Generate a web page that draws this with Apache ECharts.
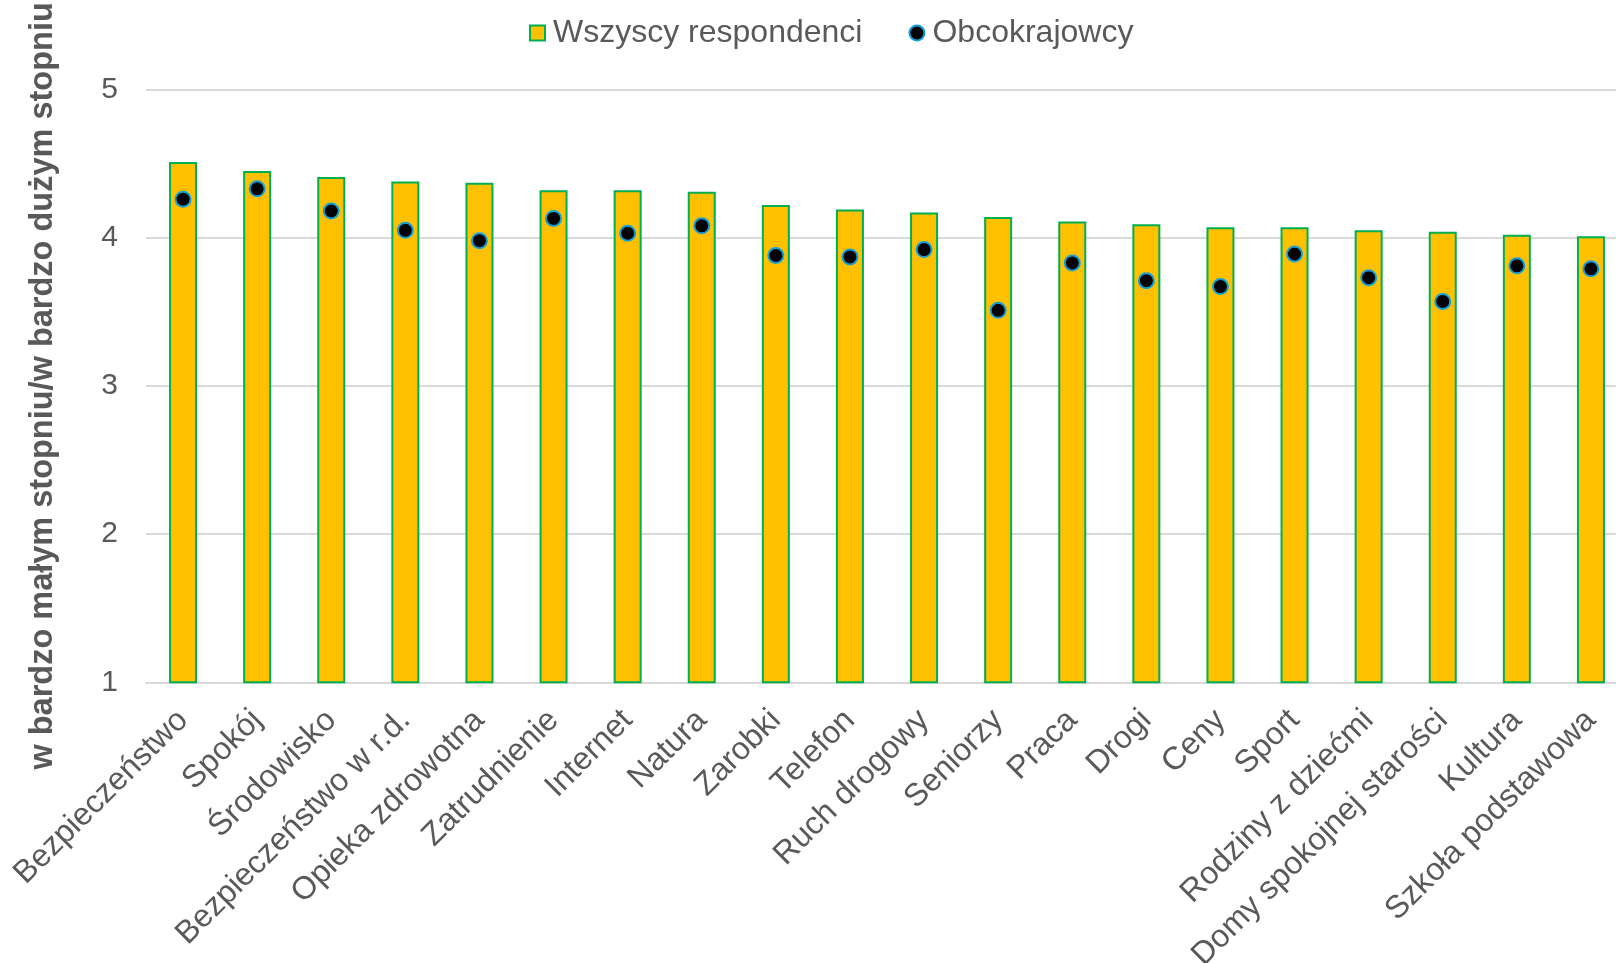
<!DOCTYPE html>
<html>
<head>
<meta charset="utf-8">
<script src="https://cdn.jsdelivr.net/npm/echarts@6/dist/echarts.min.js"></script>
<style>
html,body{margin:0;padding:0;background:#fff;overflow:hidden;}
#chart{width:1616px;height:963px;}
</style>
</head>
<body>
<div id="chart"></div>
<script>
const categories = ["Bezpieczeństwo","Spokój","Środowisko","Bezpieczeństwo w r.d.","Opieka zdrowotna","Zatrudnienie","Internet","Natura","Zarobki","Telefon","Ruch drogowy","Seniorzy","Praca","Drogi","Ceny","Sport","Rodziny z dziećmi","Domy spokojnej starości","Kultura","Szkoła podstawowa"];
const allRespondents = [4.51,4.45,4.41,4.38,4.37,4.32,4.32,4.31,4.22,4.19,4.17,4.14,4.11,4.09,4.07,4.07,4.05,4.04,4.02,4.01];
const foreigners = [4.26,4.33,4.18,4.05,3.98,4.13,4.03,4.08,3.88,3.87,3.92,3.51,3.83,3.71,3.67,3.89,3.73,3.57,3.81,3.79];
const seriesNames = ["Wszyscy respondenci","Obcokrajowcy"];
const yAxisTitle = "w bardzo małym stopniu/w bardzo dużym stopniu";

const FONT = "'Liberation Sans', Arial, sans-serif";
const chart = echarts.init(document.getElementById('chart'), null, {renderer:'canvas'});
chart.setOption({
  animation:false,
  backgroundColor:'#ffffff',
  textStyle:{fontFamily:FONT},
  legend:{
    left:529, top:17, padding:0, itemGap:46,
    itemWidth:15, itemHeight:15,
    textStyle:{fontSize:32, color:'#595959', fontFamily:FONT, padding:[0,0,0,3]},
    data:[
      {name:seriesNames[0], icon:'rect'},
      {name:seriesNames[1], icon:'circle'}
    ]
  },
  grid:{left:146, right:-12, top:89.5, bottom:280.7, containLabel:false, outerBoundsMode:'none'},
  xAxis:{
    type:'category', data:categories,
    axisLine:{show:true, lineStyle:{color:'#d9d9d9', width:2}},
    axisTick:{show:false},
    axisLabel:{rotate:45, interval:0, margin:33, fontSize:32, color:'#595959', fontFamily:FONT}
  },
  yAxis:{
    type:'value', min:1, max:5, interval:1,
    name:yAxisTitle, nameLocation:'middle', nameRotate:90, nameGap:86,
    nameTextStyle:{fontSize:32.5, fontWeight:'bold', color:'#595959', fontFamily:FONT},
    axisLine:{show:false}, axisTick:{show:false},
    axisLabel:{margin:28, fontSize:30, color:'#595959', fontFamily:FONT},
    splitLine:{lineStyle:{color:'#d9d9d9', width:2}}
  },
  series:[
    {
      name:seriesNames[0], type:'bar', data:allRespondents, barWidth:28,
      itemStyle:{color:'#FFC000', borderColor:'#00B050', borderWidth:2}
    },
    {
      name:seriesNames[1], type:'scatter', data:foreigners, symbol:'circle', symbolSize:15,
      itemStyle:{color:'#000000', borderColor:'#0FA0DC', borderWidth:2, opacity:1},
      z:3
    }
  ]
});
</script>
</body>
</html>
